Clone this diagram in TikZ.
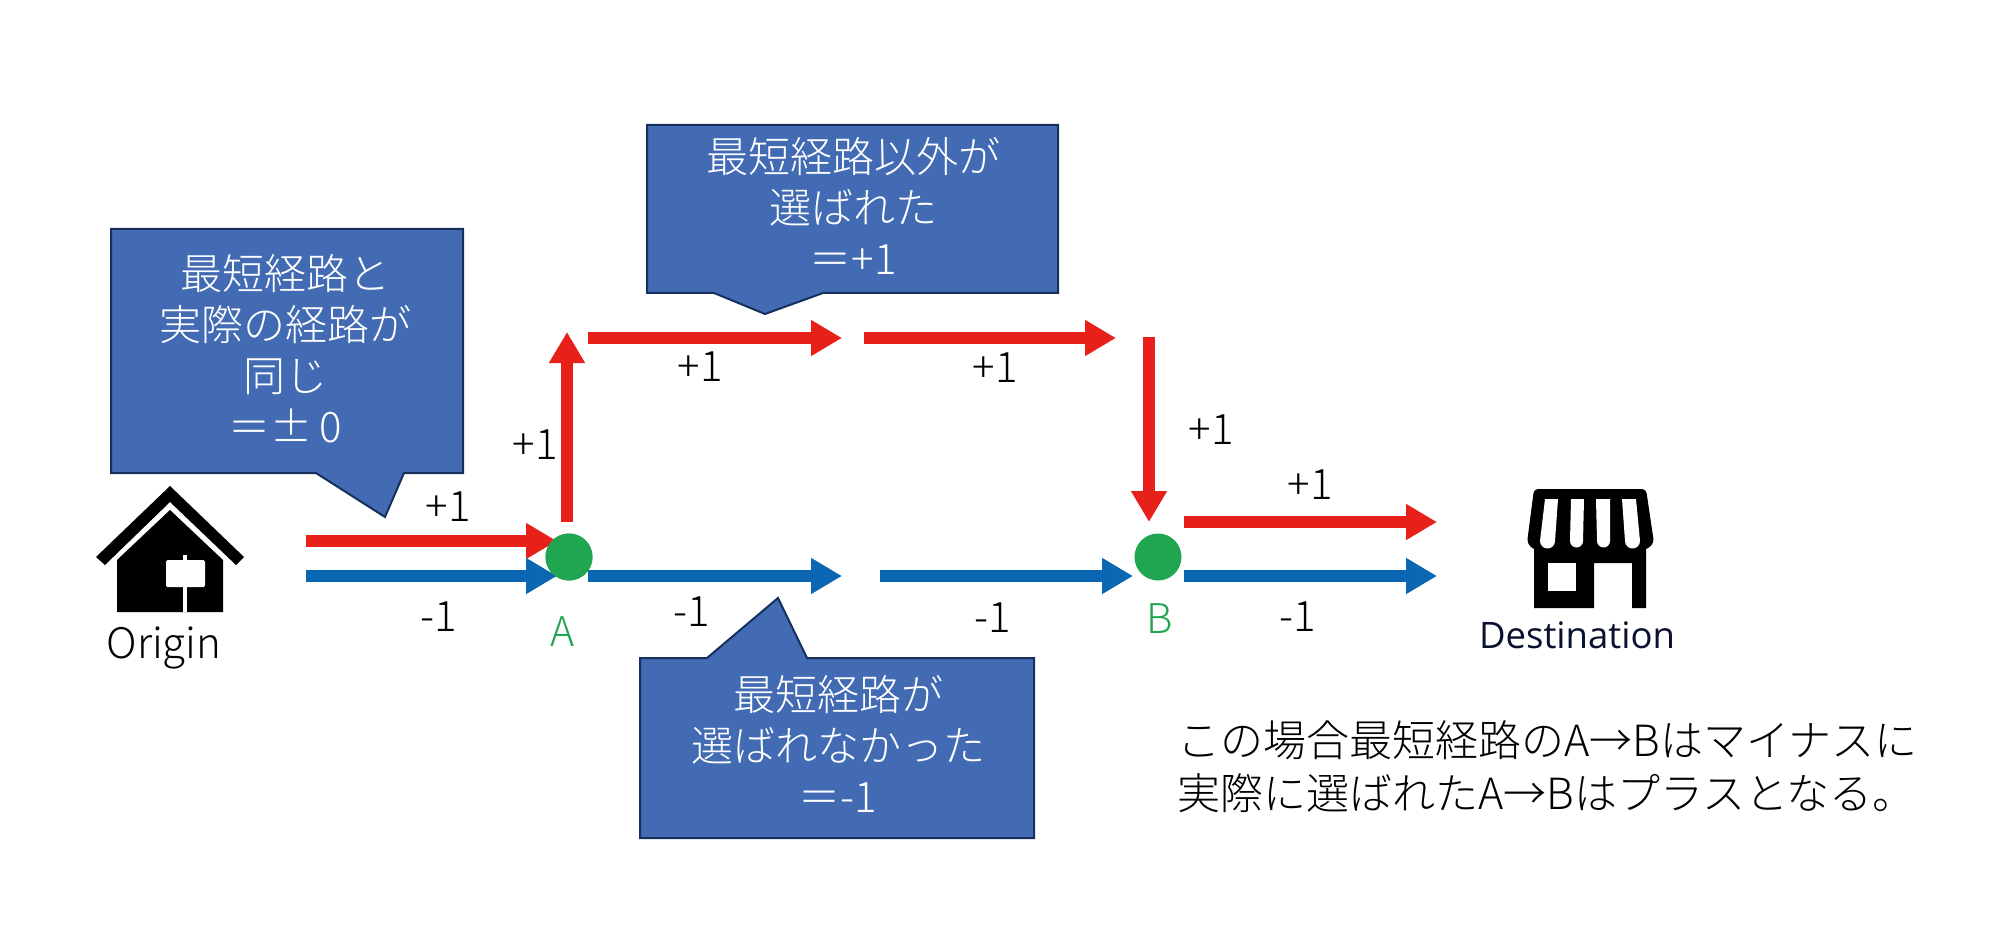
\documentclass[tikz,border=0pt]{standalone}
\usepackage{fontspec}
\usetikzlibrary{arrows.meta}
\setmainfont{Noto Sans CJK JP Light}
\newfontfamily\destfont{Open Sans}
\definecolor{rd}{HTML}{E8201A}
\definecolor{bl}{HTML}{0B67B2}
\definecolor{boxb}{HTML}{426BB3}
\definecolor{boxe}{HTML}{16305C}
\definecolor{gr}{HTML}{20A650}
\tikzset{
  x=1pt,y=-1pt,
  redarrow/.style={draw=rd,line width=12pt,-{Triangle[length=31pt,width=34pt,fill=rd]}},
  bluearrow/.style={draw=bl,line width=12pt,-{Triangle[length=31pt,width=34pt,fill=bl]}},
  callout/.style={fill=boxb,draw=boxe,line width=2pt,line join=miter},
  boxtext/.style={text=white,align=center,font=\fontsize{42}{51}\selectfont,inner sep=0pt},
  lbl/.style={text=black,font=\fontsize{42}{50}\selectfont,inner sep=0pt},
  dot/.style={circle,fill=gr,minimum width=47pt,minimum height=47pt,inner sep=0pt},
  dotlbl/.style={text=gr,font=\fontsize{41}{50}\selectfont,inner sep=0pt},
}
\begin{document}
\begin{tikzpicture}
\useasboundingbox (0,0) rectangle (2000,941);
% callouts
\draw[callout] (111,229) -- (463,229) -- (463,473) -- (404,473) -- (385,517) -- (316,473) -- (111,473) -- cycle;
\draw[callout] (647,125) -- (1058,125) -- (1058,293) -- (823,293) -- (765,314) -- (714,293) -- (647,293) -- cycle;
\draw[callout] (640,658) -- (707,658) -- (778,598) -- (807,658) -- (1034,658) -- (1034,838) -- (640,838) -- cycle;
\node[boxtext] (t1) at (285,349) {最短経路と\\実際の経路が\\同じ\\＝±\,0};
\node[boxtext] (t2) at (853,206) {最短経路以外が\\選ばれた\\＝+1};
\node[boxtext] (t3) at (838,744) {最短経路が\\選ばれなかった\\＝-1};
% waypoints
\node[dot] (A) at (569,557) {};
\node[dot] (B) at (1158,557) {};
\coordinate (r0) at (306,541); \coordinate (r0e) at (557,541);
\coordinate (b0) at (306,576); \coordinate (b0e) at (557,576);
\coordinate (ru) at (567,522); \coordinate (rue) at (567,332);
\coordinate (r1) at (588,338); \coordinate (r1e) at (842,338);
\coordinate (r2) at (864,338); \coordinate (r2e) at (1116,338);
\coordinate (rd0) at (1149,337); \coordinate (rd0e) at (1149,522);
\coordinate (r3) at (1184,522); \coordinate (r3e) at (1437,522);
\coordinate (b1) at (588,576); \coordinate (b1e) at (842,576);
\coordinate (b2) at (880,576); \coordinate (b2e) at (1133,576);
\coordinate (b3) at (1184,576); \coordinate (b3e) at (1437,576);
\draw[redarrow] (r0) -- (r0e);
\draw[bluearrow] (b0) -- (b0e);
\node[dot] at (A) {};
\draw[redarrow] (ru) -- (rue);
\draw[redarrow] (r1) -- (r1e);
\draw[redarrow] (r2) -- (r2e);
\draw[redarrow] (rd0) -- (rd0e);
\draw[redarrow] (r3) -- (r3e);
\draw[bluearrow] (b1) -- (b1e);
\draw[bluearrow] (b2) -- (b2e);
\draw[bluearrow] (b3) -- (b3e);
% labels
\node[lbl] (l1) at (448,507) {+1};
\node[lbl] (l2) at (535,445) {+1};
\node[lbl] (l3) at (700,367) {+1};
\node[lbl] (l4) at (995,368) {+1};
\node[lbl] (l5) at (1211,430) {+1};
\node[lbl] (l6) at (1310,485) {+1};
\node[lbl] (m1) at (439,617) {-1};
\node[lbl] (m2) at (692,612) {-1};
\node[lbl] (m3) at (993,618) {-1};
\node[lbl] (m4) at (1298,617) {-1};
\node[dotlbl] (la) at (563,632) {A};
\node[dotlbl] (lb) at (1160,619) {B};
% house
\fill[black] (170,486) -- (96,557) -- (105,565) -- (170,502) -- (236,565) -- (244,557) -- cycle;
\fill[black] (170,510) -- (117,560) -- (117,612) -- (223,612) -- (223,560) -- cycle;
\fill[white,rounded corners=1.5pt] (166,560) rectangle (205,587);
\fill[white] (183,555) rectangle (187,612);
\node[text=black,font=\fontsize{42}{50}\selectfont,inner sep=0pt] (orig) at (164,648) {Origin};
% store
\fill[black,rounded corners=4pt] (1534,489) -- (1646,489) -- (1654,543) -- (1646,550) -- (1534,550) -- (1527,543) -- cycle;
\fill[black] (1534,540) -- (1646,540) -- (1646,608) -- (1632,608) -- (1632,563) -- (1594,563) -- (1594,608) -- (1534,608) -- cycle;
\fill[white] (1548,563) rectangle (1576,591);
\foreach \a/\b/\c/\d in {1545/1558/1540/1555,1571/1584/1570/1583,1596/1610/1597/1610,1622/1636/1625/1640}{
  \fill[white] (\a,499) -- (\b,499) -- (\d,541) arc[start angle=0,end angle=180,radius={(\d-\c)/2}] -- cycle;
}
\node[text={rgb,255:red,10;green,16;blue,48},font=\destfont\fontsize{36.5}{44}\selectfont,inner sep=0pt] (dest) at (1577,635) {Destination};
% note
\node[text=black,align=left,font=\fontsize{43}{53}\selectfont,inner sep=0pt,anchor=west] (note) at (1177,767) {この場合最短経路のA→Bはマイナスに\\実際に選ばれたA→Bはプラスとなる。};
\end{tikzpicture}
\end{document}
